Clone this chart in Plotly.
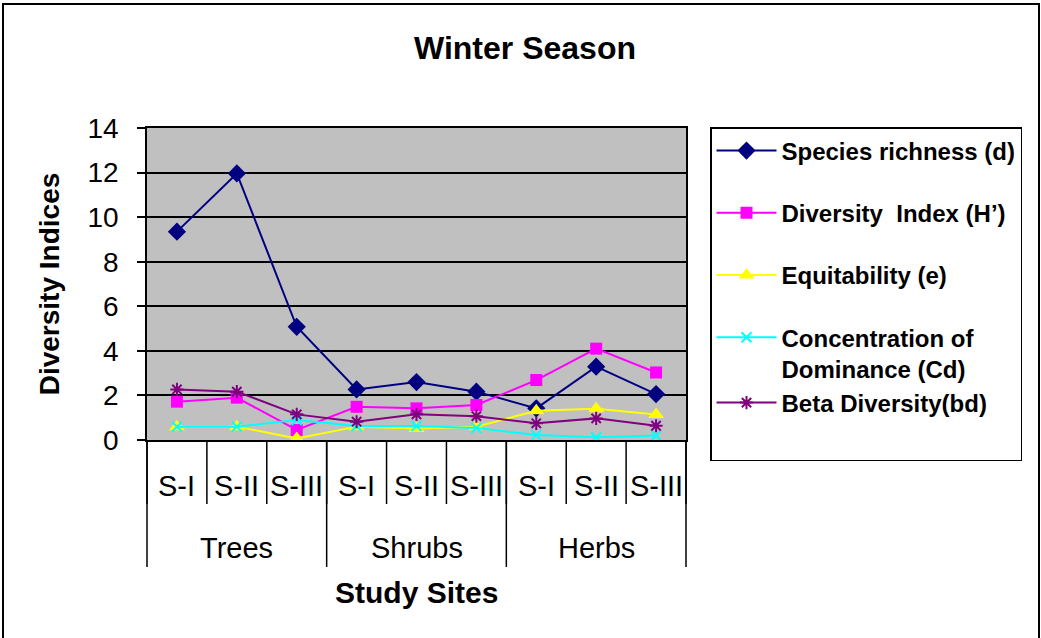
import plotly.graph_objects as go

# data
groups = ["Trees"] * 3 + ["Shrubs"] * 3 + ["Herbs"] * 3
sites = ["S-I", "S-II", "S-III"] * 3
group_names = ["Trees", "Shrubs", "Herbs"]

species_richness = [9.35, 11.96, 5.08, 2.27, 2.6, 2.17, 1.42, 3.29, 2.06]
diversity_index = [1.72, 1.9, 0.45, 1.49, 1.42, 1.57, 2.69, 4.1, 3.03]
equitability = [0.6, 0.6, 0.07, 0.6, 0.52, 0.6, 1.31, 1.4, 1.14]
dominance = [0.6, 0.6, 0.9, 0.63, 0.63, 0.54, 0.22, 0.12, 0.2]
beta_diversity = [2.27, 2.17, 1.15, 0.82, 1.15, 1.07, 0.75, 0.97, 0.64]

W, H = 1041, 638
L, R, T, B = 147, 686, 128, 440  # plot area in pixels


def px(x):
    return (x - L) / (R - L)


def py(y):
    return (B - y) / (B - T)


# name, values, colour, symbol, size, legend group
series = [
    ("Species richness (d)", species_richness, "#000080", "diamond", 14, "a"),
    ("Diversity  Index (H\u2019)", diversity_index, "#FF00FF", "square", 12, "b"),
    ("Equitability (e)", equitability, "#FFFF00", "triangle-up", 14, "c"),
    ("Concentration of<br>Dominance (Cd)", dominance, "#00FFFF", "x-thin-open", 10, "d"),
    ("Beta Diversity(bd)", beta_diversity, "#800080", "asterisk-open", 11, "d"),
]

fig = go.Figure()
for name, vals, col, sym, size, grp in series:
    fig.add_trace(go.Scatter(
        x=[groups, sites], y=vals, name="<b>" + name.replace("<br>", "</b><br><b>") + "</b>",
        mode="lines+markers", legendgroup=grp,
        line=dict(color=col, width=2),
        marker=dict(symbol=sym, size=size, color=col,
                    line=dict(color=col, width=2 if "open" in sym else 0)),
    ))

# empty legend row so the legend box reaches down like the original
fig.add_trace(go.Scatter(x=[None], y=[None], name=" ", mode="markers", legendgroup="d",
                         marker=dict(color="rgba(0,0,0,0)", size=1,
                                     line=dict(width=0, color="rgba(0,0,0,0)")),
                         hoverinfo="skip"))

n = len(sites)
shapes = []
# site boundaries below the axis
for k in range(n + 1):
    shapes.append(dict(type="line", xref="paper", yref="paper", x0=k / n, x1=k / n,
                       y0=py(504), y1=0, line=dict(color="black", width=1.5)))
# group boundaries
for k in range(0, n + 1, 3):
    shapes.append(dict(type="line", xref="paper", yref="paper", x0=k / n, x1=k / n,
                       y0=py(567), y1=0, line=dict(color="black", width=1.5)))
# outer frame
shapes.append(dict(type="rect", xref="paper", yref="paper",
                   x0=px(3), x1=px(1039), y0=py(645), y1=py(4),
                   line=dict(color="black", width=2), fillcolor="rgba(0,0,0,0)", layer="below"))

annotations = []
for k, s in enumerate(sites):
    annotations.append(dict(text=s, xref="paper", yref="paper", x=(k + 0.5) / n, y=py(486),
                            showarrow=False, xanchor="center", yanchor="middle",
                            font=dict(size=29)))
for g, name in enumerate(group_names):
    annotations.append(dict(text=name, xref="paper", yref="paper", x=(g * 3 + 1.5) / n, y=py(548),
                            showarrow=False, xanchor="center", yanchor="middle",
                            font=dict(size=29)))
annotations.append(dict(text="<b>Study Sites</b>", xref="paper", yref="paper", x=px(416), y=py(592),
                        showarrow=False, xanchor="center", yanchor="middle", font=dict(size=30)))

fig.update_layout(
    width=W, height=H,
    margin=dict(l=L, r=W - R, t=T, b=H - B),
    paper_bgcolor="white",
    plot_bgcolor="#C0C0C0",
    font=dict(family="Liberation Sans, Arial", color="black", size=22),
    title=dict(text="<b>Winter Season</b>", x=525 / W, xanchor="center",
               y=1 - 48 / H, yanchor="middle", font=dict(size=32)),
    showlegend=True,
    legend=dict(
        x=px(710), y=py(127), xanchor="left", yanchor="top",
        bordercolor="black", borderwidth=1.5, bgcolor="white",
        font=dict(size=24), traceorder="grouped", tracegroupgap=28,
        valign="top", itemwidth=60, maxheight=1000,
    ),
    xaxis=dict(
        type="multicategory", range=[-0.5, n - 0.5],
        showline=True, linecolor="black", linewidth=1.5, mirror=True,
        ticks="", showticklabels=False, showdividers=False,
        showgrid=False, automargin=False,
    ),
    yaxis=dict(
        range=[0, 14], dtick=2,
        showline=True, linecolor="black", linewidth=1.5, mirror=True,
        ticks="outside", ticklen=8, tickcolor="black", tickwidth=1.5,
        showgrid=True, gridcolor="black", gridwidth=1.5,
        zeroline=False, automargin=False,
        tickfont=dict(size=28), ticklabelstandoff=13,
        title=dict(text="<b>Diversity Indices</b>", font=dict(size=28), standoff=20),
    ),
    shapes=shapes,
    annotations=annotations,
)

fig.write_html("out.html", config={"displayModeBar": False},
               post_script="document.body.style.margin='0';")
